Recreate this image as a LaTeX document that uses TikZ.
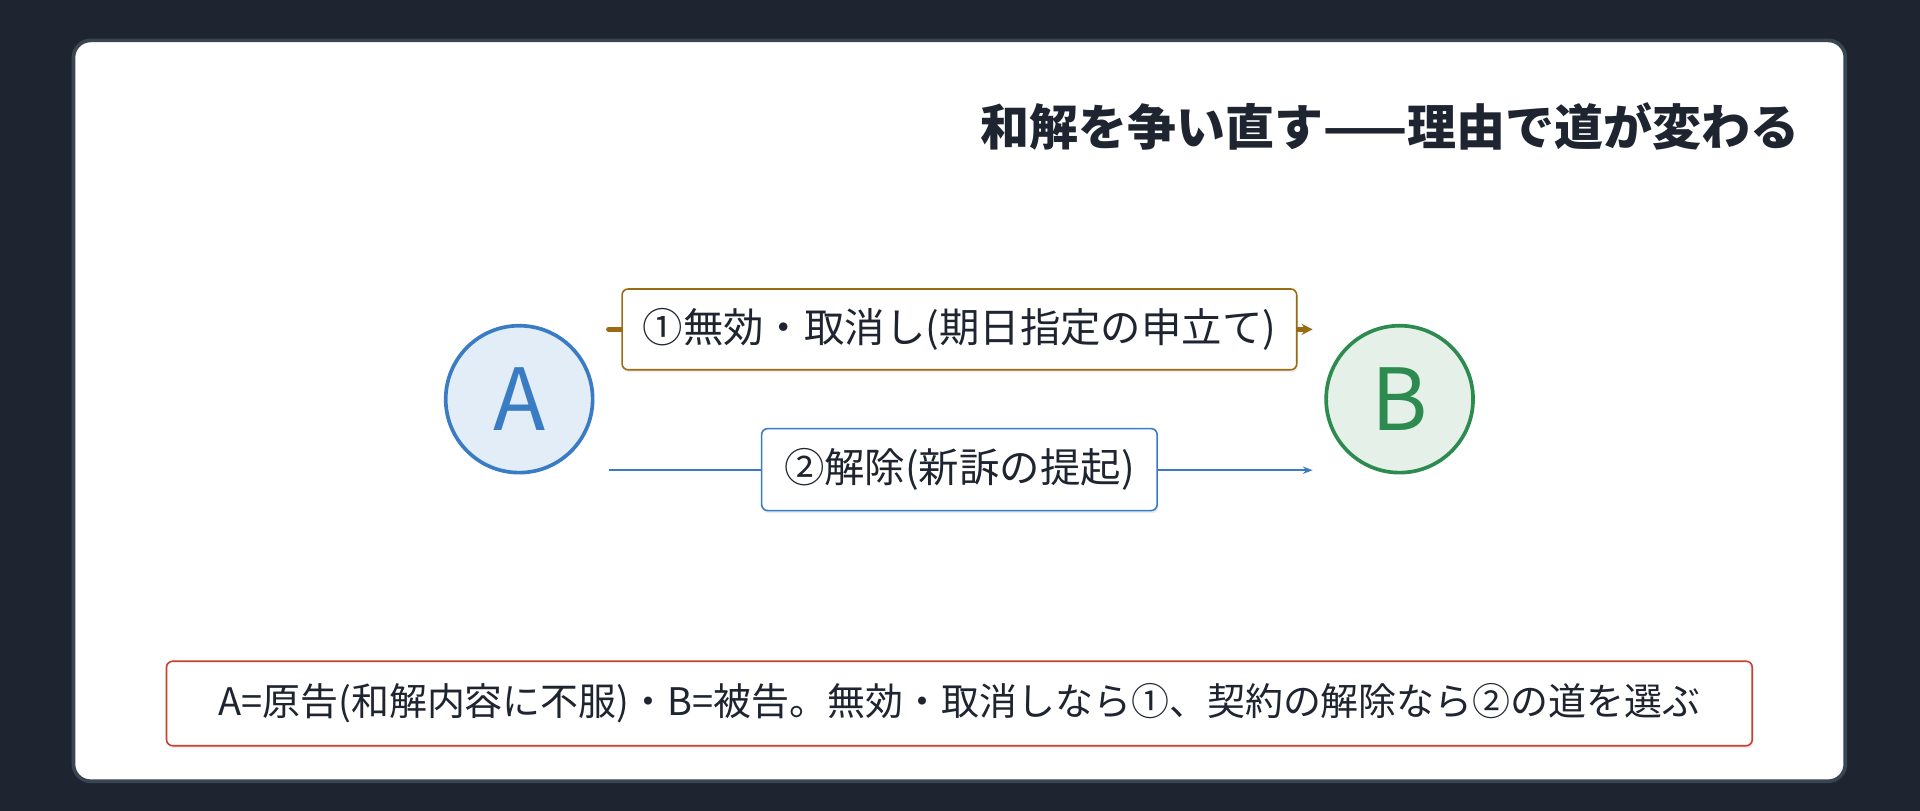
\documentclass[tikz,border=0pt]{standalone}
\usepackage{fontspec}
\setmainfont{Noto Sans CJK JP}
\usetikzlibrary{arrows.meta,shadows}
\definecolor{bgd}{HTML}{1E2530}
\definecolor{ink}{HTML}{1E2530}
\definecolor{brn}{HTML}{9A6B12}
\definecolor{blu}{HTML}{3A7CC4}
\definecolor{grn}{HTML}{2E8B4F}
\definecolor{red}{HTML}{C9402C}
\definecolor{edge}{HTML}{3A4552}
\begin{document}
\begin{tikzpicture}[x=1pt,y=1pt,
  circ/.style={circle,minimum size=120pt,line width=3pt,font=\fontsize{70}{70}\selectfont,inner sep=0},
  lbl/.style={draw,fill=white,rounded corners=5pt,line width=1.3pt,text=ink,font=\fontsize{33}{36}\selectfont,inner sep=0,drop shadow={opacity=0.15,shadow xshift=1pt,shadow yshift=-2pt}},
]
\fill[bgd] (0,0) rectangle (1568,662);
\useasboundingbox (0,0) rectangle (1568,662);
\draw[fill=white,draw=edge,line width=3pt,rounded corners=14pt] (60,24) rectangle (1507,629);
\node[anchor=east,text=ink,font=\fontsize{40}{44}\selectfont\bfseries] (t) at (1473,559) {和解を争い直す——理由で道が変わる};
\node[circ,draw=blu,fill=blu!14,text=blu] (A) at (424,336) {A};
\node[circ,draw=grn,fill=grn!13,text=grn] (B) at (1143,336) {B};
\coordinate (s1) at (497,393); \coordinate (e1) at (1072,393);
\coordinate (s2) at (497,278); \coordinate (e2) at (1072,278);
\draw[brn,line width=4pt,line cap=round,-{Stealth[length=9pt,width=9pt]}] (s1) -- (e1);
\draw[blu,line width=1.8pt,-{Stealth[length=8pt,width=6pt]}] (s2) -- (e2);
\node[lbl,draw=brn,minimum width=551pt,minimum height=66pt] (l1) at (783.5,393) {①無効・取消し(期日指定の申立て)};
\node[lbl,draw=blu,minimum width=323pt,minimum height=67pt] (l2) at (783.5,278.5) {②解除(新訴の提起)};
\node[lbl,draw=red,minimum width=1295pt,minimum height=69pt,font=\fontsize{31}{34}\selectfont] (n) at (783.5,87.5) {A=原告(和解内容に不服)・B=被告。無効・取消しなら①、契約の解除なら②の道を選ぶ};
\end{tikzpicture}
\end{document}
